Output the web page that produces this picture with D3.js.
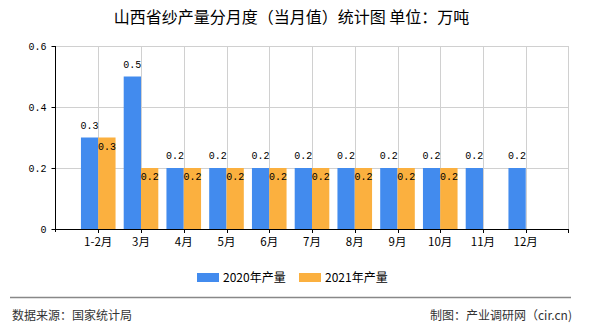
<!DOCTYPE html>
<html><head><meta charset="utf-8">
<script src="https://cdn.jsdelivr.net/npm/d3@7/dist/d3.min.js"></script>
<style>body{margin:0;background:#fff}svg{display:block}</style>
</head><body><svg id="c" width="590" height="330"></svg>
<script>
const categories = ["1-2月","3月","4月","5月","6月","7月","8月","9月","10月","11月","12月"];
const series2020 = [0.3,0.5,0.2,0.2,0.2,0.2,0.2,0.2,0.2,0.2,0.2];
const series2021 = [0.3,0.2,0.2,0.2,0.2,0.2,0.2,0.2,0.2];
const yTicks = [0,0.2,0.4,0.6];
const seriesNames = ["2020年产量","2021年产量"];
const colors = ["#428BEE","#FBB03F"];
const titleText = "山西省纱产量分月度（当月值）统计图 单位：万吨";
const sourceText = "数据来源：国家统计局";
const makerText = "制图：产业调研网（cir.cn)";

const svg = d3.select("#c");
const L = 55.5, R = 568.5, T = 46, B = 229;
const x = d3.scalePoint().domain(categories).range([L, R]).padding(1);
const y = d3.scaleLinear().domain([0,0.6]).range([B, T]);
const bw = 17.3;
const mono = "'Liberation Mono','DejaVu Sans Mono',monospace";
const cjk = "'Noto Sans CJK SC','Noto Sans',sans-serif";

// title
svg.append("text").attr("x",291.5).attr("y",23).attr("text-anchor","middle")
  .attr("font-family",cjk).attr("font-size",16).attr("fill","#000").text(titleText);

// grid
const g = svg.append("g");
g.selectAll(".hg").data(yTicks.filter(d=>d>0)).join("line")
  .attr("x1",L).attr("x2",R).attr("y1",d=>Math.round(y(d))+0.5).attr("y2",d=>Math.round(y(d))+0.5)
  .attr("stroke","#d0d0d0");
g.selectAll(".vg").data(categories).join("line")
  .attr("x1",d=>Math.round(x(d))+0.5).attr("x2",d=>Math.round(x(d))+0.5).attr("y1",T).attr("y2",B)
  .attr("stroke","#d0d0d0");
g.append("line").attr("x1",R).attr("x2",R).attr("y1",T).attr("y2",B).attr("stroke","#d0d0d0");

// bars
svg.append("g").selectAll("rect").data(series2020).join("rect")
  .attr("x",(d,i)=>x(categories[i])-bw).attr("width",bw)
  .attr("y",d=>y(d)).attr("height",d=>B-y(d)).attr("fill",colors[0]);
svg.append("g").selectAll("rect").data(series2021).join("rect")
  .attr("x",(d,i)=>x(categories[i])).attr("width",bw)
  .attr("y",d=>y(d)).attr("height",d=>B-y(d)).attr("fill",colors[1]);

// value labels
svg.append("g").selectAll("text").data(series2020).join("text")
  .attr("x",(d,i)=>x(categories[i])-bw/2).attr("y",d=>y(d)-9)
  .attr("text-anchor","middle").attr("font-family",mono).attr("font-size",10).attr("fill","#000")
  .text(d=>d);
svg.append("g").selectAll("text").data(series2021).join("text")
  .attr("x",(d,i)=>x(categories[i])+bw/2).attr("y",d=>y(d)+12)
  .attr("text-anchor","middle").attr("font-family",mono).attr("font-size",10).attr("fill","#000")
  .text(d=>d);

// axes
const ax = svg.append("g");
ax.append("line").attr("x1",L).attr("x2",L).attr("y1",T).attr("y2",B+3).attr("stroke","#000");
ax.append("line").attr("x1",L-3).attr("x2",R).attr("y1",B+0.5).attr("y2",B+0.5).attr("stroke","#000");
ax.selectAll(".yt").data(yTicks).join("line")
  .attr("x1",L-4).attr("x2",L).attr("y1",d=>Math.round(y(d))+0.5).attr("y2",d=>Math.round(y(d))+0.5).attr("stroke","#000");
ax.selectAll(".yl").data(yTicks).join("text")
  .attr("x",L-9).attr("y",d=>y(d)+3.5).attr("text-anchor","end")
  .attr("font-family",mono).attr("font-size",10).attr("fill","#000")
  .text(d=>d===0?"0":d.toFixed(1));
ax.selectAll(".xt").data(categories).join("line")
  .attr("x1",d=>Math.round(x(d))+0.5).attr("x2",d=>Math.round(x(d))+0.5).attr("y1",B).attr("y2",B+4).attr("stroke","#000");
ax.append("line").attr("x1",R).attr("x2",R).attr("y1",B).attr("y2",B+4).attr("stroke","#000");
ax.selectAll(".xl").data(categories).join("text")
  .attr("x",d=>x(d)).attr("y",B+17).attr("text-anchor","middle")
  .attr("font-family",cjk).attr("font-size",11.5).attr("fill","#000").text(d=>d);

// legend
const lg = svg.append("g");
const lx = [197, 299];
seriesNames.forEach((n,i)=>{
  lg.append("rect").attr("x",lx[i]).attr("y",273).attr("width",22).attr("height",9).attr("fill",colors[i]);
  lg.append("text").attr("x",lx[i]+26).attr("y",282).attr("font-family",cjk).attr("font-size",12)
    .attr("fill","#000").text(n);
});

// footer
svg.append("line").attr("x1",10).attr("x2",571).attr("y1",297.5).attr("y2",297.5).attr("stroke","#888").attr("stroke-width",1.5);
svg.append("text").attr("x",12).attr("y",320).attr("font-family",cjk).attr("font-size",12).attr("fill","#333").text(sourceText);
svg.append("text").attr("x",572).attr("y",320).attr("text-anchor","end").attr("font-family",cjk).attr("font-size",12).attr("fill","#333").text(makerText);
</script></body></html>
